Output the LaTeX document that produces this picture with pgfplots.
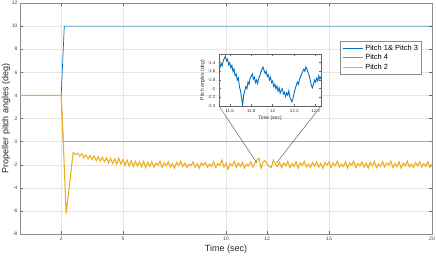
\documentclass[border=0pt]{standalone}
\usepackage{fontspec}
\setmainfont{Liberation Sans}
\usepackage{pgfplots}
\pgfplotsset{compat=1.18}
\definecolor{mblue}{rgb}{0,0.447,0.741}
\definecolor{morange}{rgb}{0.85,0.325,0.098}
\definecolor{myellow}{rgb}{0.929,0.694,0.125}
\begin{document}
\begin{tikzpicture}
\begin{axis}[name=main, at={(0,0)}, anchor=south west,
  scale only axis, width=412bp, height=231bp,
  xmin=0, xmax=20, ymin=-8, ymax=12,
  xtick={2,5,10,12,15,20}, ytick={-8,-6,...,12},
  /pgf/number format/assume math mode=true,
  tick label style={font=\fontsize{5}{6}\selectfont, text=black!75},
  yticklabel style={xshift=1bp},
  tick align=inside, major tick length=3bp,
  tick style={black!60, line width=0.4pt},
  axis line style={black!45, line width=0.5pt},
  grid=major, major grid style={black!10, line width=0.4pt},
  xlabel={Time (sec)}, ylabel={Propeller pitch angles (deg)},
  label style={font=\fontsize{9}{10}\selectfont, text=black!85},
  xlabel style={yshift=3bp},
  ylabel style={at={(axis description cs:-0.034,0.5)}, anchor=center},
  legend style={at={(0.975,0.835)}, anchor=north east,
    font=\fontsize{7.5}{8.5}\selectfont, draw=black!45, line width=0.4pt,
    inner sep=1.5pt, row sep=-1.5pt, fill=white},
  legend cell align=left,
  legend image code/.code={\draw[#1] (0cm,0cm) -- (20bp,0cm);},
]
\addplot[mblue, line width=0.7pt] coordinates {(0,4) (2.0,4) (2.15,10) (20,10)};
\addlegendentry{Pitch 1\& Pitch 3}
\addplot[morange!85, line width=0.7pt] coordinates {(0,4) (2.0,4) (2.1,0) (20,0)};
\addlegendentry{Pitch 4}
\addplot[myellow, line width=1.1pt] coordinates {
(0,4) (2.0,4) (2.1,0) (2.24,-6.25) (2.58,-0.95)
(2.7,-1.10) (2.8,-1.00) (2.9,-1.25) (3.0,-1.05) (3.1,-1.40) (3.2,-1.15) (3.3,-1.50) (3.4,-1.20)
(3.5,-1.55) (3.6,-1.25) (3.7,-1.65) (3.8,-1.30) (3.9,-1.70) (4.0,-1.35) (4.1,-1.75) (4.2,-1.40)
(4.3,-1.85) (4.4,-1.45) (4.5,-1.90) (4.6,-1.50) (4.7,-1.95) (4.8,-1.45) (4.9,-1.95) (5.0,-1.55)
(5.1,-2.05) (5.2,-1.60) (5.3,-2.10) (5.4,-1.65) (5.5,-2.15) (5.6,-1.70) (5.7,-2.10) (5.8,-1.75)
(5.9,-2.20) (6.0,-1.70) (6.1,-2.25) (6.2,-1.80) (6.3,-2.15) (6.4,-1.75) (6.5,-2.20) (6.6,-1.85)
(6.7,-2.05) (6.8,-1.70) (6.9,-2.25) (7.0,-1.85) (7.1,-2.10) (7.2,-1.75) (7.3,-2.20) (7.4,-1.90)
(7.5,-2.30) (7.6,-1.80) (7.7,-2.05) (7.8,-1.70) (7.9,-2.15) (8.0,-1.85) (8.1,-2.25) (8.2,-1.95)
(8.3,-2.10) (8.4,-1.75) (8.5,-2.20) (8.6,-1.90) (8.7,-2.30) (8.8,-1.85) (8.9,-2.05) (9.0,-1.80)
(9.1,-2.20) (9.2,-1.95) (9.3,-2.15) (9.4,-1.75) (9.5,-2.25) (9.6,-1.90) (9.7,-2.05) (9.8,-1.60)
(9.9,-2.20) (10.0,-1.85) (10.1,-2.40) (10.2,-1.90) (10.3,-2.10) (10.4,-1.70) (10.5,-2.25) (10.6,-1.85)
(10.7,-2.15) (10.8,-1.80) (10.9,-2.30) (11.0,-1.95) (11.1,-2.10) (11.2,-1.75) (11.3,-2.20) (11.4,-1.90)
(11.5,-1.60) (11.6,-1.45) (11.7,-2.30) (11.8,-1.75) (11.9,-1.65) (12.0,-1.95) (12.1,-2.15) (12.2,-2.25)
(12.3,-1.60) (12.4,-1.95) (12.5,-2.15) (12.6,-1.80) (12.7,-2.25) (12.8,-1.85) (12.9,-2.10) (13.0,-1.70)
(13.1,-2.25) (13.2,-1.90) (13.3,-2.15) (13.4,-1.75) (13.5,-2.30) (13.6,-1.85) (13.7,-2.05) (13.8,-1.70)
(13.9,-2.20) (14.0,-1.95) (14.1,-2.25) (14.2,-1.80) (14.3,-2.10) (14.4,-1.75) (14.5,-2.20) (14.6,-1.90)
(14.7,-2.30) (14.8,-1.80) (14.9,-2.05) (15.0,-1.75) (15.1,-2.25) (15.2,-1.85) (15.3,-2.10) (15.4,-1.70)
(15.5,-2.20) (15.6,-1.95) (15.7,-2.15) (15.8,-1.75) (15.9,-2.30) (16.0,-1.85) (16.1,-2.05) (16.2,-1.70)
(16.3,-2.25) (16.4,-1.90) (16.5,-2.10) (16.6,-1.75) (16.7,-2.20) (16.8,-1.85) (16.9,-2.30) (17.0,-1.80)
(17.1,-2.10) (17.2,-1.70) (17.3,-2.25) (17.4,-1.95) (17.5,-2.15) (17.6,-1.75) (17.7,-2.20) (17.8,-1.85)
(17.9,-2.05) (18.0,-1.70) (18.1,-2.25) (18.2,-1.90) (18.3,-2.15) (18.4,-1.75) (18.5,-2.30) (18.6,-1.85)
(18.7,-2.10) (18.8,-1.70) (18.9,-2.20) (19.0,-1.95) (19.1,-2.25) (19.2,-1.80) (19.3,-2.10) (19.4,-1.75)
(19.5,-2.20) (19.6,-1.90) (19.7,-2.15) (19.8,-1.75) (19.9,-2.25) (20.0,-1.95)
};
\addlegendentry{Pitch 2}
\coordinate (zl) at (axis cs:11.5,-1.85);
\coordinate (zr) at (axis cs:12.45,-1.85);
\end{axis}
\begin{axis}[name=inset, at={(199bp,128bp)}, anchor=south west,
  scale only axis, width=102bp, height=52bp,
  xmin=11.5, xmax=12.45, ymin=-2.4, ymax=-1.2,
  xtick={11.6,11.8,12,12.2,12.4}, ytick={-2.4,-2.2,...,-1.4},
  /pgf/number format/assume math mode=true,
  /pgf/number format/fixed,
  tick label style={font=\fontsize{4.5}{5}\selectfont, text=black!75},
  tick align=inside, major tick length=2bp,
  tick style={black!60, line width=0.4pt},
  axis line style={black!60, line width=0.5pt},
  axis background/.style={fill=white},
  xlabel={Time (sec)}, ylabel={Pitch angles (deg)},
  label style={font=\fontsize{5}{6}\selectfont, text=black!85},
  xlabel style={yshift=4bp},
  ylabel style={yshift=-4bp},
]
\addplot[mblue, line width=0.9pt] coordinates {
(11.50,-1.58) (11.51,-1.50) (11.52,-1.42) (11.53,-1.47) (11.54,-1.35) (11.55,-1.30) (11.56,-1.25) (11.57,-1.36)
(11.58,-1.32) (11.59,-1.45) (11.60,-1.40) (11.61,-1.52) (11.62,-1.46) (11.63,-1.60) (11.64,-1.55) (11.65,-1.70)
(11.66,-1.66) (11.67,-1.80) (11.68,-1.75) (11.69,-1.95) (11.70,-2.05) (11.71,-2.20) (11.72,-2.38) (11.73,-2.15)
(11.74,-2.05) (11.75,-1.95) (11.76,-2.00) (11.77,-1.85) (11.78,-1.90) (11.79,-1.75) (11.80,-1.72) (11.81,-1.66)
(11.82,-1.78) (11.83,-1.74) (11.84,-1.86) (11.85,-1.80) (11.86,-1.88) (11.87,-1.76) (11.88,-1.70) (11.89,-1.62)
(11.90,-1.55) (11.91,-1.50) (11.92,-1.58) (11.93,-1.65) (11.94,-1.60) (11.95,-1.72) (11.96,-1.68) (11.97,-1.80)
(11.98,-1.74) (11.99,-1.86) (12.00,-1.82) (12.01,-1.95) (12.02,-1.90) (12.03,-2.00) (12.04,-1.94) (12.05,-2.06)
(12.06,-1.98) (12.07,-2.10) (12.08,-2.04) (12.09,-2.00) (12.10,-2.12) (12.11,-2.08) (12.12,-2.18) (12.13,-2.10)
(12.14,-2.15) (12.15,-2.05) (12.16,-2.20) (12.17,-2.25) (12.18,-2.30) (12.19,-2.22) (12.20,-2.10) (12.21,-2.00)
(12.22,-1.92) (12.23,-1.85) (12.24,-1.90) (12.25,-1.78) (12.26,-1.72) (12.27,-1.66) (12.28,-1.60) (12.29,-1.55)
(12.30,-1.60) (12.31,-1.50) (12.32,-1.56) (12.33,-1.62) (12.34,-1.70) (12.35,-1.80) (12.36,-1.92) (12.37,-1.98)
(12.38,-1.90) (12.39,-1.80) (12.40,-1.85) (12.41,-1.76) (12.42,-1.82) (12.43,-1.70) (12.44,-1.78) (12.45,-1.72)
};
\end{axis}
\draw[black!70, line width=0.4pt] (inset.south west) -- (zl);
\draw[black!70, line width=0.4pt] (inset.south east) -- (zr);
\pgfresetboundingbox
\path[use as bounding box] (-20bp,-22bp) rectangle (416bp,234bp);
\end{tikzpicture}
\end{document}
